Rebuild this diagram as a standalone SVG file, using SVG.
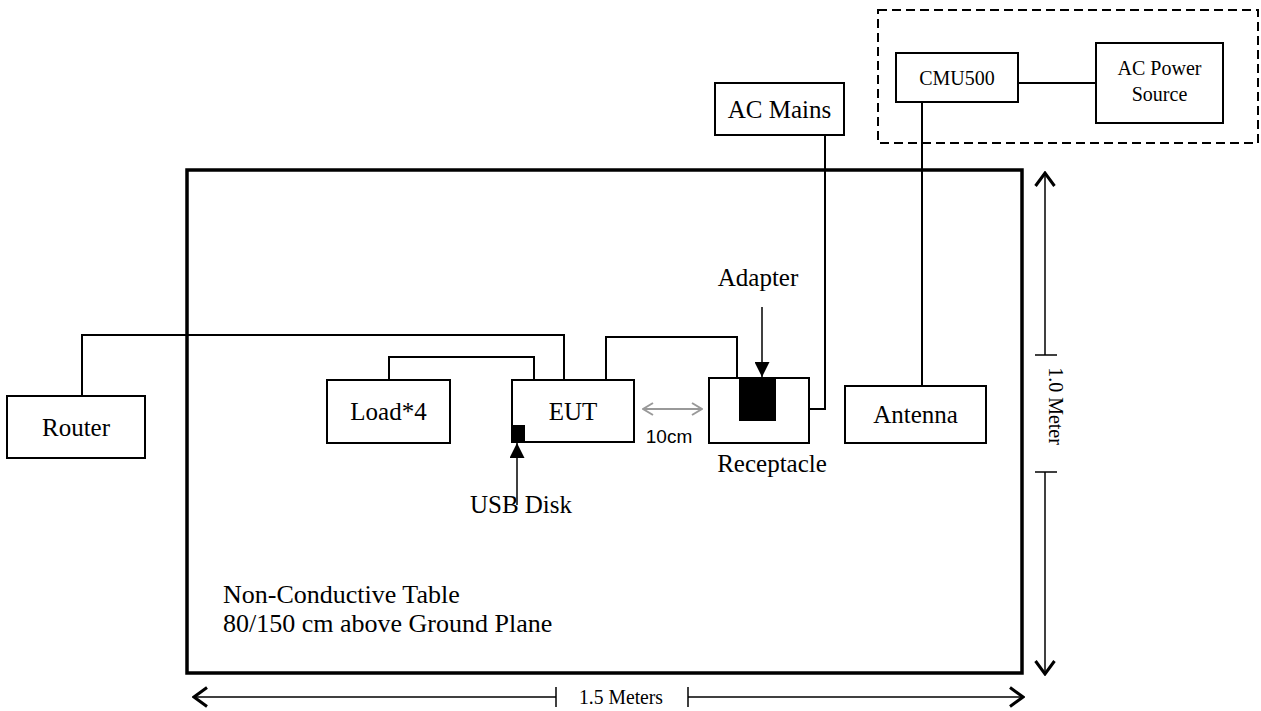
<svg xmlns="http://www.w3.org/2000/svg" width="1261" height="711" viewBox="0 0 1261 711">
<style>
  .box{fill:#fff;stroke:#000;stroke-width:2}
  .t{font-family:"Liberation Serif","Times New Roman",serif;font-size:25px;fill:#000;text-anchor:middle}
  .ts{font-family:"Liberation Serif","Times New Roman",serif;font-size:20px;fill:#000;text-anchor:middle}
  .w{fill:none;stroke:#000;stroke-width:2}
  .dim{fill:none;stroke:#000;stroke-width:1.5}
</style>
<defs>
  <marker id="chev" markerUnits="userSpaceOnUse" viewBox="0 0 16 22" refX="14" refY="11" markerWidth="16" markerHeight="22" orient="auto-start-reverse">
    <path d="M1,1.5 L14,11 L1,20.5" fill="none" stroke="#000" stroke-width="3"/>
  </marker>
  <marker id="gchev" markerUnits="userSpaceOnUse" viewBox="0 0 12 14" refX="11" refY="7" markerWidth="12" markerHeight="14" orient="auto-start-reverse">
    <path d="M1,1 L11,7 L1,13" fill="none" stroke="#999" stroke-width="2"/>
  </marker>
  <marker id="tri" markerUnits="userSpaceOnUse" viewBox="0 0 15 15" refX="15" refY="7.5" markerWidth="15" markerHeight="15" orient="auto">
    <path d="M0,0 L15,7.5 L0,15 Z" fill="#000"/>
  </marker>
</defs>
<rect width="1261" height="711" fill="#fff"/>

<g id="table">
  <rect x="187" y="170" width="835" height="503" fill="none" stroke="#000" stroke-width="3.5"/>
  <text x="223" y="603" font-family="Liberation Serif, Times New Roman, serif" font-size="26">Non-Conductive Table</text>
  <text x="223" y="632" font-family="Liberation Serif, Times New Roman, serif" font-size="26">80/150 cm above Ground Plane</text>
</g>

<g id="dashed-group">
  <rect x="878" y="10" width="380" height="133" fill="none" stroke="#000" stroke-width="2" stroke-dasharray="9,5"/>
</g>

<g id="connectors">
  <path class="w" d="M1018,83 L1096,83" stroke-width="3"/>
  <path class="w" d="M922,102 L922,386"/>
  <path class="w" d="M825,135 L825,409 L809,409"/>
  <path class="w" d="M82,396 L82,335 L564,335 L564,380"/>
  <path class="w" d="M389,380 L389,357 L534,357 L534,380"/>
  <path class="w" d="M606,380 L606,337 L737,337 L737,378"/>
  <line x1="762" y1="307" x2="762" y2="377" stroke="#000" stroke-width="1.5" marker-end="url(#tri)"/>
  <line x1="517" y1="505" x2="517" y2="443" stroke="#000" stroke-width="1.5" marker-end="url(#tri)"/>
  <line x1="643" y1="409" x2="702" y2="409" stroke="#999" stroke-width="2" marker-start="url(#gchev)" marker-end="url(#gchev)"/>
</g>

<g id="dimensions">
  <line class="dim" x1="1045" y1="355" x2="1045" y2="173" marker-end="url(#chev)"/>
  <line class="dim" x1="1045" y1="472" x2="1045" y2="674" marker-end="url(#chev)"/>
  <line class="dim" x1="1035" y1="355" x2="1057" y2="355"/>
  <line class="dim" x1="1035" y1="472" x2="1057" y2="472"/>
  <text transform="translate(1056,406) rotate(90)" x="0" y="7" class="ts">1.0 Meter</text>
  <line class="dim" x1="556" y1="697" x2="194" y2="697" marker-end="url(#chev)"/>
  <line class="dim" x1="688" y1="697" x2="1023" y2="697" marker-end="url(#chev)"/>
  <line class="dim" x1="556" y1="687" x2="556" y2="707"/>
  <line class="dim" x1="688" y1="687" x2="688" y2="707"/>
  <text x="621" y="704" class="ts" textLength="84" lengthAdjust="spacingAndGlyphs">1.5 Meters</text>
</g>

<g id="cmu500">
  <rect class="box" x="896" y="53" width="122" height="49"/>
  <text class="ts" x="957" y="85">CMU500</text>
</g>
<g id="ac-power-source">
  <rect class="box" x="1096" y="43" width="127" height="80"/>
  <text class="ts" x="1159.5" y="75">AC Power</text>
  <text class="ts" x="1159.5" y="101">Source</text>
</g>
<g id="ac-mains">
  <rect class="box" x="715" y="83" width="129" height="52"/>
  <text class="t" x="779.5" y="118">AC Mains</text>
</g>
<g id="router">
  <rect class="box" x="7" y="396" width="138" height="62"/>
  <text class="t" x="76" y="436">Router</text>
</g>
<g id="load">
  <rect class="box" x="327" y="380" width="123" height="63"/>
  <text class="t" x="388.5" y="420">Load*4</text>
</g>
<g id="eut">
  <rect class="box" x="512" y="380" width="122" height="62"/>
  <text class="t" x="573" y="420">EUT</text>
</g>
<g id="usb-disk">
  <rect x="511" y="425" width="14" height="17" fill="#000"/>
  <text class="t" x="521" y="513">USB Disk</text>
</g>
<g id="receptacle">
  <rect class="box" x="709" y="378" width="100" height="65"/>
  <text class="t" x="772" y="472">Receptacle</text>
</g>
<g id="adapter">
  <rect x="739" y="377" width="37" height="44" fill="#000"/>
  <text class="t" x="758" y="286">Adapter</text>
</g>
<g id="antenna">
  <rect class="box" x="845" y="386" width="141" height="57"/>
  <text class="t" x="915.5" y="423">Antenna</text>
</g>
<g id="distance-label">
  <text x="669" y="443" font-family="Liberation Sans, Arial, sans-serif" font-size="19" text-anchor="middle">10cm</text>
</g>
</svg>
